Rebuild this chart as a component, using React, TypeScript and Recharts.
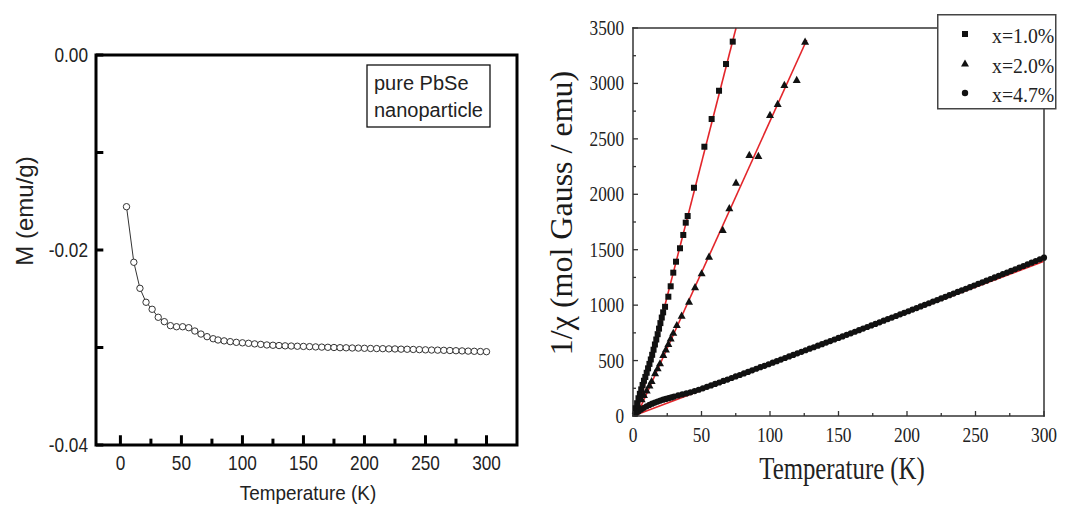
import { ComposedChart, Line, Scatter, XAxis, YAxis, Legend, ReferenceArea, ReferenceLine } from "recharts";

const SANS = '"Liberation Sans", Arial, sans-serif';
const SERIF = '"Liberation Serif", "Times New Roman", serif';
const FIT_RED = "#e3262b";

// ---- left panel: magnetisation of undoped PbSe nanoparticles ----
const pureTemps = [
  5, 11, 16, 21, 26, 31, 36, 41, 46, 51, 56, 61, 66, 71, 76,
  80, 85, 90, 95, 100, 105, 110, 115, 120, 125, 130, 135, 140, 145, 150,
  155, 160, 165, 170, 175, 180, 185, 190, 195, 200, 205, 210, 215, 220, 225,
  230, 235, 240, 245, 250, 255, 260, 265, 270, 275, 280, 285, 290, 295, 300,
];
const pureMoment = [
  -0.01556, -0.02126, -0.02393, -0.02536, -0.02608, -0.0269, -0.02735, -0.02776, -0.02787, -0.02787,
  -0.02797, -0.02831, -0.02862, -0.02889, -0.0291,
  -0.02923, -0.02932, -0.0294, -0.02947, -0.02952, -0.02957, -0.02963, -0.02968, -0.02974, -0.02977,
  -0.0298, -0.02983, -0.02985, -0.02987, -0.02989, -0.02991, -0.02994, -0.02996, -0.02998, -0.03,
  -0.03002, -0.03003, -0.03005, -0.03006, -0.03008, -0.0301, -0.03011, -0.03012, -0.03014, -0.03015,
  -0.03017, -0.03018, -0.0302, -0.03022, -0.03024, -0.03026, -0.03027, -0.03029, -0.03031, -0.03033,
  -0.03035, -0.03037, -0.03039, -0.03041, -0.03043,
];
const pureNote = ["pure PbSe", "nanoparticle"];
const pureXDomain = [-20, 325];
const pureYDomain = [-0.04, 0];
const pureXTicks = [0, 25, 50, 75, 100, 125, 150, 175, 200, 225, 250, 275, 300];
const pureYTicks = [0, -0.01, -0.02, -0.03, -0.04];

// ---- right panel: inverse susceptibility of doped samples ----
const dopedNames = ["x=1.0%", "x=2.0%", "x=4.7%"];

const x10Temps = [
  2, 3, 4, 5, 6, 7, 8, 9, 10, 11, 12, 13, 14, 15, 16, 17, 18, 19, 20, 21, 22,
  23.4, 25.8, 27.5, 29.4, 31.4, 34.3, 36.7, 38.5, 39.9, 44.5, 52.1, 57.4, 62.8, 67.9, 72.8,
];
const x10Inv = [
  70, 115, 160, 200, 240, 280, 318, 352, 390, 430, 470, 510, 552, 598, 645, 690, 738, 788, 838, 888, 935,
  985, 1076, 1170, 1293, 1392, 1513, 1633, 1744, 1804, 2059, 2429, 2679, 2934, 3175, 3377,
];

const x20Temps = [
  2, 4, 6.3, 8, 10, 12, 13.6, 16.1, 18, 19.7, 22.1, 24, 25.8, 27.5, 29.4, 32, 35.5,
  40.9, 45.3, 50.1, 55.5, 65.5, 70.3, 75.2, 84.9, 91.5, 100, 105.6, 110.5, 119.5, 125.6,
];
const x20Inv = [
  45, 95, 150, 190, 230, 275, 315, 385, 430, 475, 550, 600, 650, 700, 750, 820, 905,
  1030, 1161, 1287, 1437, 1678, 1874, 2105, 2354, 2345, 2715, 2814, 2986, 3031, 3377,
];

const x47Temps = [
  2, 4, 6, 8, 10, 12, 14, 16, 18, 20, 22, 24, 26, 28, 30,
  33, 36, 39, 42, 45, 48, 51, 54, 57, 60, 63, 66, 69, 72, 75, 78, 81, 84, 87, 90,
  93, 96, 99, 102, 105, 108, 111, 114, 117, 120, 123, 126, 129, 132, 135, 138, 141, 144, 147, 150,
  153, 156, 159, 162, 165, 168, 171, 174, 177, 180, 183, 186, 189, 192, 195, 198, 201, 204, 207, 210,
  213, 216, 219, 222, 225, 228, 231, 234, 237, 240, 243, 246, 249, 252, 255, 258, 261, 264, 267, 270,
  273, 276, 279, 282, 285, 288, 291, 294, 297, 300,
];
const x47Inv = [
  20, 40, 58, 74, 88, 100, 111, 121, 130, 139, 147, 154, 161, 168, 175,
  186, 195, 204, 214, 225, 237, 250, 263, 276, 289, 302, 316, 329, 343, 357, 370, 384, 398, 412, 426,
  440, 453, 467, 481, 495, 509, 523, 537, 551, 565, 579, 593, 607, 620, 634, 648, 662, 676, 690, 704,
  718, 732, 746, 760, 774, 789, 803, 817, 831, 845, 860, 874, 888, 902, 917, 931, 945, 960, 974, 988,
  1003, 1017, 1032, 1046, 1061, 1075, 1090, 1104, 1119, 1133, 1148, 1162, 1177, 1192, 1206, 1221, 1236, 1250, 1265, 1280,
  1294, 1309, 1324, 1339, 1353, 1368, 1383, 1398, 1413, 1428,
];

// Curie-Weiss fit end points
const x10FitTemps = [2.6, 75.2];
const x10FitInv = [0, 3500];
const x20FitTemps = [2.6, 126.8];
const x20FitInv = [0, 3392];
const x47FitTemps = [0, 300];
const x47FitInv = [0, 1395];

const invXDomain = [0, 300];
const invYDomain = [0, 3500];
const invXTicks = [0, 25, 50, 75, 100, 125, 150, 175, 200, 225, 250, 275, 300];
const invYTicks = [0, 250, 500, 750, 1000, 1250, 1500, 1750, 2000, 2250, 2500, 2750, 3000, 3250, 3500];

const zip = (ts: number[], vs: number[], key: string) => ts.map((T, i) => ({ T, [key]: vs[i] }));

const pureRows = zip(pureTemps, pureMoment, "M");
const x10Rows = zip(x10Temps, x10Inv, "V");
const x20Rows = zip(x20Temps, x20Inv, "V");
const x47Rows = zip(x47Temps, x47Inv, "V");
const x10Fit = zip(x10FitTemps, x10FitInv, "V");
const x20Fit = zip(x20FitTemps, x20FitInv, "V");
const x47Fit = zip(x47FitTemps, x47FitInv, "V");

// inward tick lengths on the left panel, in data units
const pureXTickLen = (v: number) => (v % 50 === 0 ? 0.001 : 0.00065);
const pureYTickLen = 6;

// ---------- left panel pieces ----------
const PureXTick = ({ x, y, payload }: any) =>
  payload.value % 50 === 0 ? (
    <text transform={`translate(${x},${y + 25}) scale(0.82,1)`} textAnchor="middle"
      fontFamily={SANS} fontSize={21} fill="#222" stroke="none">
      {payload.value}
    </text>
  ) : (
    <g />
  );

const PureYTick = ({ x, y, payload }: any) => {
  const v = payload.value;
  return Math.round(Math.abs(v) * 100) % 2 === 0 ? (
    <text transform={`translate(${x - 8},${y + 7}) scale(0.82,1)`} textAnchor="end"
      fontFamily={SANS} fontSize={21} fill="#222" stroke="none">
      {v.toFixed(2)}
    </text>
  ) : (
    <g />
  );
};

const PureNoteBox = () => (
  <svg width={126} height={65} style={{ display: "block" }}>
    <rect x={1} y={1} width={123} height={62} fill="#fff" stroke="#111" strokeWidth={1.3} />
    {pureNote.map((line, i) => (
      <text key={line} x={8} y={26 + i * 27} fontFamily={SANS} fontSize={20} fill="#222">
        {line}
      </text>
    ))}
  </svg>
);

// ---------- right panel pieces ----------
const invFrame = { stroke: "#333", strokeWidth: 1.5, strokeLinecap: "square" as const };

const InvXTick = ({ x, y, payload }: any) => {
  const major = payload.value % 50 === 0;
  return (
    <g>
      <line x1={x} x2={x} y1={y} y2={y - (major ? 5 : 3)} stroke="#333" strokeWidth={1.3} />
      {major && (
        <text transform={`translate(${x},${y + 26}) scale(0.83,1)`} textAnchor="middle"
          fontFamily={SERIF} fontSize={21} fill="#222" stroke="none">
          {payload.value}
        </text>
      )}
    </g>
  );
};

const InvTopTick = ({ x, y, payload }: any) => {
  const major = payload.value % 50 === 0;
  return <line x1={x} x2={x} y1={y} y2={y + (major ? 5 : 3)} stroke="#333" strokeWidth={1.3} />;
};

const InvYTick = ({ x, y, payload }: any) => {
  const major = payload.value % 500 === 0;
  return (
    <g>
      <line x1={x} x2={x + (major ? 5 : 3)} y1={y} y2={y} stroke="#333" strokeWidth={1.3} />
      {major && (
        <text transform={`translate(${x - 9},${y + 7}) scale(0.82,1)`} textAnchor="end"
          fontFamily={SERIF} fontSize={21} fill="#222" stroke="none">
          {payload.value}
        </text>
      )}
    </g>
  );
};

const InvRightTick = ({ x, y, payload }: any) => {
  const major = payload.value % 500 === 0;
  return <line x1={x} x2={x - (major ? 5 : 3)} y1={y} y2={y} stroke="#333" strokeWidth={1.3} />;
};

const SquareDot = (p: any) => <rect x={p.cx - 3} y={p.cy - 3} width={6} height={6} fill="#111" />;
const TriangleDot = (p: any) => (
  <path d={`M${p.cx},${p.cy - 4.2}L${p.cx + 4},${p.cy + 3}L${p.cx - 4},${p.cy + 3}Z`} fill="#111" />
);
const RoundDot = (p: any) => <circle cx={p.cx} cy={p.cy} r={3.1} fill="#111" />;

const legendMarks = [
  (cx: number, cy: number) => <rect x={cx - 3} y={cy - 3} width={6} height={6} fill="#111" />,
  (cx: number, cy: number) => <path d={`M${cx},${cy - 4}L${cx + 4},${cy + 3}L${cx - 4},${cy + 3}Z`} fill="#111" />,
  (cx: number, cy: number) => <circle cx={cx} cy={cy} r={3.2} fill="#111" />,
];

const InvLegend = () => (
  <svg width={122} height={96} style={{ display: "block", overflow: "visible" }}>
    <rect x={0.75} y={0.75} width={118} height={94} fill="#fff" stroke="#444" strokeWidth={1.5} />
    {dopedNames.map((name, i) => {
      const cy = 20 + i * 29.5;
      return (
        <g key={name}>
          {legendMarks[i](28, cy)}
          <text transform={`translate(55,${cy + 9}) scale(0.9,1)`} fontFamily={SERIF} fontSize={22} fill="#222">
            {name}
          </text>
        </g>
      );
    })}
  </svg>
);

function PurePanel() {
  return (
    <ComposedChart width={540} height={515} data={pureRows} margin={{ top: 55, right: 23, bottom: 40, left: 36 }}>
      <XAxis type="number" dataKey="T" domain={pureXDomain} ticks={pureXTicks} interval={0}
        height={30} tickSize={0} tickMargin={0} tickLine={false} axisLine={false}
        tick={(p: any) => <PureXTick {...p} />}
        label={() => (
          <text transform="translate(308,500) scale(0.9,1)" textAnchor="middle" fontFamily={SANS} fontSize={21} fill="#222">
            Temperature (K)
          </text>
        )}
      />
      <YAxis type="number" dataKey="M" domain={pureYDomain} ticks={pureYTicks} interval={0}
        width={60} tickSize={0} tickMargin={0} tickLine={false} axisLine={false}
        tick={(p: any) => <PureYTick {...p} />}
        label={() => (
          <text transform="translate(33,211) rotate(-90)" textAnchor="middle" fontFamily={SANS} fontSize={24} fill="#222">
            M (emu/g)
          </text>
        )}
      />
      {/* inward tick marks */}
      {pureXTicks.map((t) => (
        <ReferenceLine key={`xt${t}`} ifOverflow="visible" stroke="#000" strokeWidth={3}
          segment={[{ x: t, y: pureYDomain[0] }, { x: t, y: pureYDomain[0] + pureXTickLen(t) }]} />
      ))}
      {pureYTicks.map((t) => (
        <ReferenceLine key={`yt${t}`} ifOverflow="visible" stroke="#000" strokeWidth={3}
          segment={[{ x: pureXDomain[0], y: t }, { x: pureXDomain[0] + pureYTickLen, y: t }]} />
      ))}
      {/* heavy plot frame */}
      <ReferenceArea x1={pureXDomain[0]} x2={pureXDomain[1]} y1={pureYDomain[0]} y2={pureYDomain[1]}
        fill="none" stroke="#000" strokeWidth={3} ifOverflow="visible" />
      <Line type="linear" dataKey="M" stroke="#333" strokeWidth={1}
        dot={{ r: 3.2, fill: "#fff", stroke: "#333", strokeWidth: 1 }} isAnimationActive={false} />
      <Legend content={() => <PureNoteBox />} layout="vertical" align="center" verticalAlign="middle"
        wrapperStyle={{ left: 366, top: 64, width: 126, height: 65 }} />
    </ComposedChart>
  );
}

function InversePanel() {
  return (
    <ComposedChart width={527} height={515} margin={{ top: 27, right: 22, bottom: 59, left: 33 }}>
      <XAxis xAxisId="top" orientation="top" type="number" dataKey="T" domain={invXDomain} ticks={invXTicks}
        interval={0} height={1} tickSize={0} tickMargin={0} tickLine={false} axisLine={invFrame}
        tick={(p: any) => <InvTopTick {...p} />} />
      <XAxis type="number" dataKey="T" domain={invXDomain} ticks={invXTicks} interval={0}
        height={40} tickSize={0} tickMargin={0} tickLine={false} axisLine={invFrame}
        tick={(p: any) => <InvXTick {...p} />}
        label={() => (
          <text transform="translate(302,479) scale(0.8,1)" textAnchor="middle" fontFamily={SERIF} fontSize={31} fill="#222">
            Temperature (K)
          </text>
        )}
      />
      <YAxis type="number" dataKey="V" domain={invYDomain} ticks={invYTicks} interval={0}
        width={60} tickSize={0} tickMargin={0} tickLine={false} axisLine={invFrame}
        tick={(p: any) => <InvYTick {...p} />}
        label={() => (
          <text transform="translate(32,213) rotate(-90)" textAnchor="middle" fontFamily={SERIF} fontSize={32} fill="#1a1a1a">
            1/χ (mol Gauss / emu)
          </text>
        )}
      />
      <YAxis yAxisId="right" orientation="right" type="number" domain={invYDomain} ticks={invYTicks}
        interval={0} width={1} tickSize={0} tickMargin={0} tickLine={false} axisLine={invFrame}
        tick={(p: any) => <InvRightTick {...p} />} />
      <Scatter name={dopedNames[0]} data={x10Rows} dataKey="V" shape={SquareDot} isAnimationActive={false} />
      <Scatter name={dopedNames[1]} data={x20Rows} dataKey="V" shape={TriangleDot} isAnimationActive={false} />
      <Scatter name={dopedNames[2]} data={x47Rows} dataKey="V" shape={RoundDot} isAnimationActive={false} />
      <Line data={x10Fit} dataKey="V" type="linear" stroke={FIT_RED} strokeWidth={1.6} dot={false} isAnimationActive={false} />
      <Line data={x20Fit} dataKey="V" type="linear" stroke={FIT_RED} strokeWidth={1.6} dot={false} isAnimationActive={false} />
      <Line data={x47Fit} dataKey="V" type="linear" stroke={FIT_RED} strokeWidth={1.6} dot={false} isAnimationActive={false} />
      <Legend content={() => <InvLegend />} layout="vertical" align="center" verticalAlign="middle"
        wrapperStyle={{ left: 397, top: 14, width: 122, height: 96 }} />
    </ComposedChart>
  );
}

export default function App() {
  return (
    <div style={{ position: "absolute", left: 0, top: 0, width: 1067, height: 515, background: "#fff", overflow: "hidden" }}>
      <div style={{ position: "absolute", left: 0, top: 0 }}>
        <PurePanel />
      </div>
      <div style={{ position: "absolute", left: 540, top: 0 }}>
        <InversePanel />
      </div>
    </div>
  );
}
